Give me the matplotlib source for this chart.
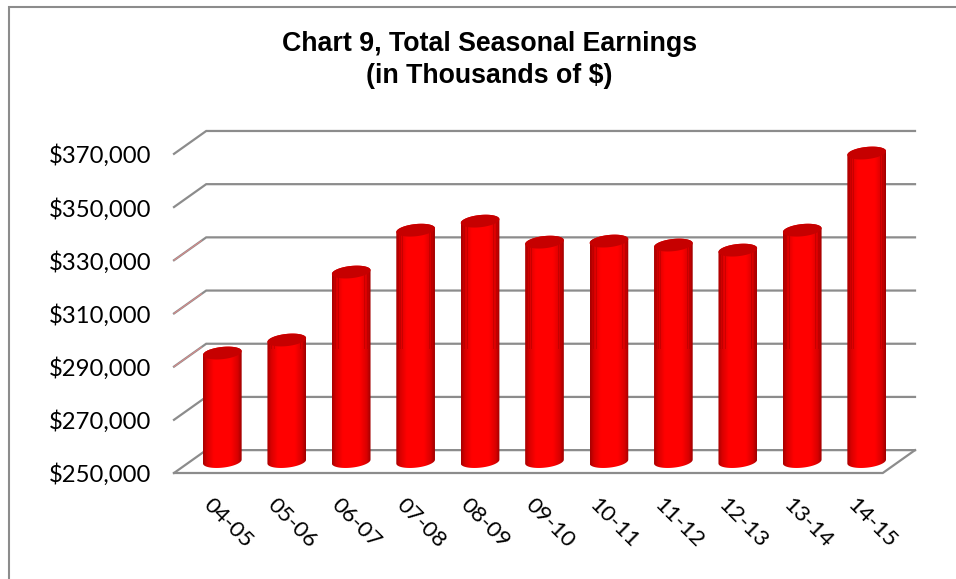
import matplotlib
matplotlib.use("Agg")
import matplotlib.pyplot as plt
from matplotlib.colors import LinearSegmentedColormap
from matplotlib.lines import Line2D
from matplotlib.path import Path
from matplotlib.patches import PathPatch
import numpy as np

seasons = ["04-05", "05-06", "06-07", "07-08", "08-09", "09-10",
           "10-11", "11-12", "12-13", "13-14", "14-15"]
earnings = [290800, 295700, 321250, 337000, 340400, 332500,
            332900, 331400, 329500, 337000, 366000]
y_ticks = [250000, 270000, 290000, 310000, 330000, 350000, 370000]

W, H = 956, 579
GRID = "#8c8c8c"
DEPTH_X = 0.5      # wall depth in category units
DEPTH_Y = 8600     # wall depth in dollars
BAR_A = 0.30       # cylinder half width
BAR_B = 2300       # cap half height
TILT = 2400        # cap tilt, dollars per category unit
STREAK_FROM = 297000
streak_offsets = [-0.275, -0.245, -0.205, 0.205, 0.245, 0.275]

red_map = LinearSegmentedColormap.from_list(
    "cyl", [(0.0, "#a80000"), (0.10, "#d80000"), (0.28, "#ff0000"),
            (0.72, "#ff0000"), (0.90, "#d80000"), (1.0, "#a00000")])


def ellipse_points(cx, cy, t):
    return cx + BAR_A * np.cos(t), cy + BAR_B * np.sin(t) + TILT * BAR_A * np.cos(t)


def add_cylinder(ax, cx, base, top):
    # outline: lower half of the bottom cap, then up and over the top cap
    tb = np.linspace(np.pi, 2 * np.pi, 40)
    tt = np.linspace(0, np.pi, 40)
    xb, yb = ellipse_points(cx, base, tb)
    xt, yt = ellipse_points(cx, top, tt)
    verts = np.column_stack([np.r_[xb, xt, xb[0]], np.r_[yb, yt, yb[0]]])
    outline = PathPatch(Path(verts), transform=ax.transData, fc="none", ec="none")
    ax.add_patch(outline)

    grad = np.linspace(0, 1, 80).reshape(1, -1)
    im = ax.imshow(grad, cmap=red_map, aspect="auto", zorder=3,
                   extent=(cx - BAR_A, cx + BAR_A, base - 2 * BAR_B, top + 2 * BAR_B))
    im.set_clip_path(outline)

    # the source has rough dark stripes on the upper part of each bar
    for off in streak_offsets:
        ln, = ax.plot([cx + off, cx + off], [STREAK_FROM, top], color="#b00000",
                      lw=0.7, alpha=0.55, zorder=4)
        ln.set_clip_path(outline)

    # top cap
    t = np.linspace(0, 2 * np.pi, 80)
    xc, yc = ellipse_points(cx, top, t)
    ax.fill(xc, yc, color="#c60000", lw=0, zorder=5)


def main():
    fig = plt.figure(figsize=(W / 100, H / 100), dpi=100)
    ax = fig.add_axes([174 / W, 1 - 473 / H, (915 - 174) / W, (473 - 125) / H])
    x_st, x_ed = -0.5, 11.0
    y_st = 250000
    y_ed = 250000 + (473 - 125) * 376

    # walls and floor
    for v in y_ticks:
        ax.plot([x_st, x_st + DEPTH_X, x_ed], [v, v + DEPTH_Y, v + DEPTH_Y],
                color=GRID, lw=1.6, zorder=1, clip_on=False, solid_joinstyle="miter")
    for v in y_ticks[2:5]:
        ax.plot([x_st, x_st + DEPTH_X * 0.85], [v, v + DEPTH_Y * 0.85],
                color="#e08a8a", lw=0.7, zorder=2, clip_on=False)
    ax.plot([x_st, x_ed - DEPTH_X, x_ed], [y_st, y_st, y_st + DEPTH_Y],
            color=GRID, lw=1.6, zorder=1, clip_on=False, solid_joinstyle="miter")

    # bars stand on the middle of the floor
    shift = DEPTH_Y / 2
    for i, val in enumerate(earnings):
        add_cylinder(ax, i + DEPTH_X / 2, y_st + shift, val + shift)

    ax.set_xlim(x_st, x_ed)
    ax.set_ylim(y_st, y_ed)

    ax.set_yticks(y_ticks)
    ax.set_yticklabels(["$%s" % format(v, ",") for v in y_ticks],
                       fontname="Lato", fontsize=17.2, color="black")
    ax.set_xticks(range(len(seasons)))
    ax.set_xticklabels(seasons, fontname="Lato", fontsize=16.2, rotation=-45,
                       ha="left", va="center", rotation_mode="anchor")
    ax.tick_params(axis="both", length=0)
    ax.tick_params(axis="y", pad=16.5)
    ax.tick_params(axis="x", pad=21)
    for s in ax.spines.values():
        s.set_visible(False)
    ax.patch.set_visible(False)

    fig.text(489.5 / W, 1 - 60 / H, "Chart 9, Total Seasonal Earnings\n(in Thousands of $)",
             fontname="Liberation Sans", fontweight="bold", fontsize=19.3,
             ha="center", va="center", linespacing=1.27, color="black")

    # chart frame, only top and left fall inside the crop
    fig.add_artist(Line2D([9 / W, 9 / W, 1], [0, 1 - 6.5 / H, 1 - 6.5 / H],
                          color=GRID, lw=1.5, solid_joinstyle="miter"))

    fig.savefig("out.png", dpi=100)
    plt.close(fig)


if __name__ == '__main__':
    main()
